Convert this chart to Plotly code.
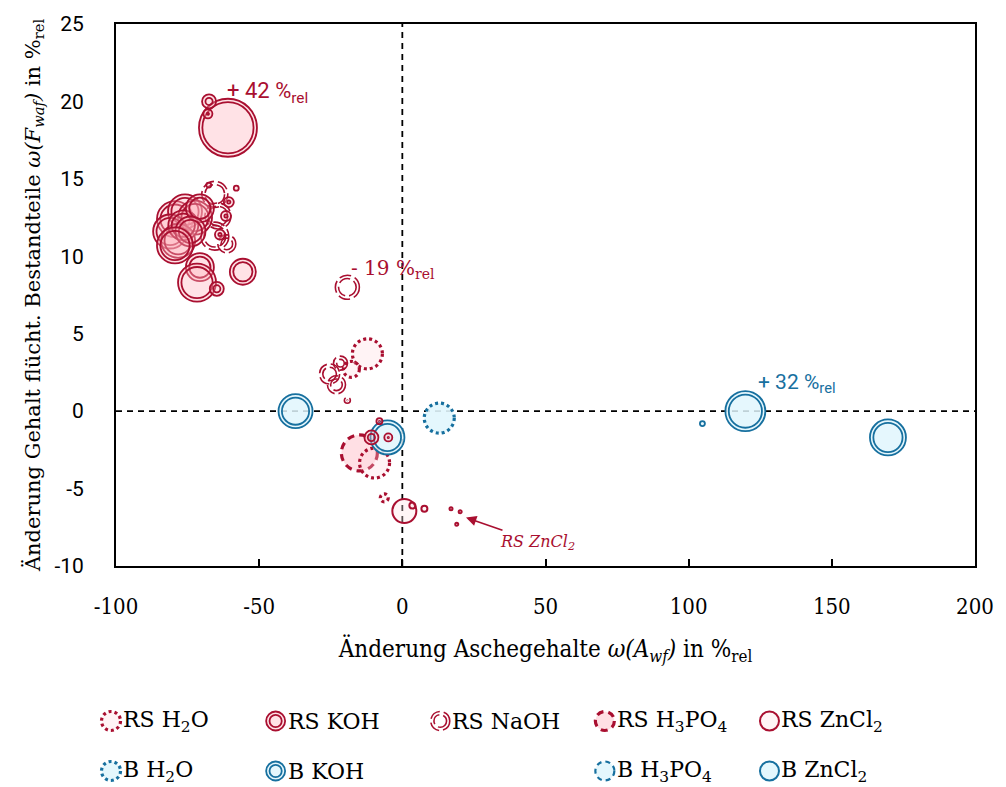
import plotly.graph_objects as go

# ---- data: x = Änderung Aschegehalt, y = Änderung flüchtige Bestandteile, s = Blasengröße ----
rs_h2o_x = [-12.2, -9.7, -17.8, -6.3]
rs_h2o_y = [3.7, -3.35, 2.7, -5.6]
rs_h2o_s = [3.0, 3.0, 1.6, 0.8]

rs_koh_x = [-60.9, -67.5, -67.9, -79.4, -75.9, -72.4, -81.1, -78.3, -76.5, -70.7, -74.0,
            -79.4, -70.7, -71.7, -64.8, -55.7, -60.6, -61.6, -63.7, -67.6, -58.0,
            -10.8, -4.9, -8.0]
rs_koh_y = [18.3, 20.0, 19.2, 12.4, 12.9, 12.5, 11.6, 11.0, 12.0, 13.1, 11.6,
            10.7, 9.3, 8.3, 7.9, 9.0, 13.5, 12.6, 11.4, 14.6, 14.4,
            -1.7, -1.7, -0.65]
rs_koh_s = [5.8, 1.4, 0.9, 3.6, 3.4, 3.4, 3.4, 3.4, 3.0, 2.8, 3.0,
            3.6, 2.8, 3.8, 1.4, 2.6, 1.0, 1.0, 1.0, 0.5, 0.5,
            1.4, 0.8, 0.6]

rs_naoh_x = [-65.5, -64.4, -65.5, -61.3, -19.2, -25.4, -21.6, -23.0, -19.2]
rs_naoh_y = [14.0, 12.6, 11.3, 10.8, 8.0, 2.4, 3.1, 1.7, 0.7]
rs_naoh_s = [2.6, 2.6, 2.8, 1.8, 2.4, 2.0, 1.4, 1.8, 0.6]

rs_h3po4_x = [-15.0]
rs_h3po4_y = [-2.7]
rs_h3po4_s = [3.6]

rs_zncl2_x = [0.7, 3.5, 7.7, 17.0, 20.2, 19.0]
rs_zncl2_y = [-6.45, -6.1, -6.3, -6.3, -6.5, -7.3]
rs_zncl2_s = [2.4, 0.6, 0.6, 0.3, 0.3, 0.3]

b_h2o_x = [12.9]
b_h2o_y = [-0.45]
b_h2o_s = [3.0]

b_koh_x = [-37.3, -5.2, 119.8, 169.6, 104.8]
b_koh_y = [0.0, -1.7, 0.0, -1.7, -0.8]
b_koh_s = [3.4, 3.4, 4.0, 3.6, 0.5]

b_h3po4_x, b_h3po4_y, b_h3po4_s = [], [], []
b_zncl2_x, b_zncl2_y, b_zncl2_s = [], [], []

x_ticks = [-100, -50, 0, 50, 100, 150, 200]
x_ticktext = ["-100", "-50", "0", "50", "100", "150", "200"]
y_ticks = [-10, -5, 0, 5, 10, 15, 20, 25]
y_ticktext = ["-10", "-5", "0", "5", "10", "15", "20", "25"]

# ---- styles ----
RED = "#A90F30"
BLUE = "#17709F"
PX_PER_UNIT = 10  # bubble size value -> diameter in pixels

STYLES = {
    "RS H2O":   dict(color=RED, double=False, dash="3px,3px", width=3.2, fill="rgba(255,215,222,0.30)"),
    "RS KOH":   dict(color=RED, double=True, dash="solid", width=1.8, fill="rgba(255,180,190,0.38)"),
    "RS NaOH":  dict(color=RED, double=True, dash="12px,4px", width=1.6, fill="rgba(255,255,255,0)"),
    "RS H3PO4": dict(color=RED, double=False, dash="7px,5px", width=3.2, fill="rgba(255,185,195,0.45)"),
    "RS ZnCl2": dict(color=RED, double=False, dash="solid", width=2.0, fill="rgba(255,225,230,0.35)"),
    "B H2O":    dict(color=BLUE, double=False, dash="3px,3px", width=3.2, fill="rgba(225,246,253,0.9)"),
    "B KOH":    dict(color=BLUE, double=True, dash="solid", width=1.8, fill="rgba(225,246,253,0.85)"),
    "B H3PO4":  dict(color=BLUE, double=False, dash="5px,4px", width=2.2, fill="rgba(225,246,253,0.9)"),
    "B ZnCl2":  dict(color=BLUE, double=False, dash="solid", width=2.0, fill="rgba(225,246,253,0.9)"),
}

SERIES = [
    ("RS H3PO4", rs_h3po4_x, rs_h3po4_y, rs_h3po4_s),
    ("RS H2O", rs_h2o_x, rs_h2o_y, rs_h2o_s),
    ("RS NaOH", rs_naoh_x, rs_naoh_y, rs_naoh_s),
    ("B H2O", b_h2o_x, b_h2o_y, b_h2o_s),
    ("B H3PO4", b_h3po4_x, b_h3po4_y, b_h3po4_s),
    ("B ZnCl2", b_zncl2_x, b_zncl2_y, b_zncl2_s),
    ("B KOH", b_koh_x, b_koh_y, b_koh_s),
    ("RS KOH", rs_koh_x, rs_koh_y, rs_koh_s),
    ("RS ZnCl2", rs_zncl2_x, rs_zncl2_y, rs_zncl2_s),
]


def ring(x, y, d, color, width, dash, fill, xref="x", yref="y"):
    return dict(type="circle", xref=xref, yref=yref,
                xsizemode="pixel", ysizemode="pixel", xanchor=x, yanchor=y,
                x0=-d / 2, x1=d / 2, y0=-d / 2, y1=d / 2,
                line=dict(color=color, width=width, dash=dash),
                fillcolor=fill, layer="above")


def bubble(style, x, y, d, xref="x", yref="y"):
    st = STYLES[style]
    out = [ring(x, y, d, st["color"], st["width"], st["dash"], st["fill"], xref, yref)]
    if st["double"] and d > 5:
        out.append(ring(x, y, d - 2 * (st["width"] + 1.6), st["color"], st["width"],
                        st["dash"], "rgba(0,0,0,0)", xref, yref))
    return out


shapes = []
for name, xs, ys, ss in SERIES:
    for x, y, s in zip(xs, ys, ss):
        shapes += bubble(name, x, y, s * PX_PER_UNIT)

# dashed zero lines
shapes.append(dict(type="line", xref="x", yref="paper", x0=0, x1=0, y0=0, y1=1,
                   line=dict(color="black", width=1.8, dash="6px,5px"), layer="below"))
shapes.append(dict(type="line", xref="paper", yref="y", x0=0, x1=1, y0=0, y1=0,
                   line=dict(color="black", width=1.8, dash="6px,5px"), layer="below"))

# ---- custom legend below the plot area ----
W, H = 1006, 787
ML, MR, MT, MB = 116, 29, 24, 221
PW, PH = W - ML - MR, H - MT - MB


def px_to_paper(px, py):
    return (px - ML) / PW, (H - MB - py) / PH


LEGEND = [
    ("RS H2O", "RS H<sub>2</sub>O", 111, 721),
    ("RS KOH", "RS KOH", 276, 721),
    ("RS NaOH", "RS NaOH", 441, 721),
    ("RS H3PO4", "RS H<sub>3</sub>PO<sub>4</sub>", 606, 721),
    ("RS ZnCl2", "RS ZnCl<sub>2</sub>", 771, 721),
    ("B H2O", "B H<sub>2</sub>O", 111, 771),
    ("B KOH", "B KOH", 276, 771),
    ("B H3PO4", "B H<sub>3</sub>PO<sub>4</sub>", 606, 771),
    ("B ZnCl2", "B ZnCl<sub>2</sub>", 771, 771),
]

annotations = []
for key, label, cx, cy in LEGEND:
    px, py = px_to_paper(cx, cy)
    shapes += bubble(key, px, py, 19, xref="paper", yref="paper")
    tx, _ = px_to_paper(cx + 10, cy)
    annotations.append(dict(x=tx, y=py, xref="paper", yref="paper", text=label,
                            showarrow=False, xanchor="left", yanchor="middle",
                            font=dict(family="DejaVu Serif", size=22, color="black")))

# value labels
annotations += [
    dict(x=-61.8, y=20.6, text="+ 42 %<sub>rel</sub>", showarrow=False, xanchor="left",
         yanchor="middle", font=dict(family="Roboto", size=22, color=RED)),
    dict(x=-18.5, y=9.2, text="- 19 %<sub>rel</sub>", showarrow=False, xanchor="left",
         yanchor="middle", font=dict(family="DejaVu Serif", size=20, color=RED)),
    dict(x=123.5, y=1.8, text="+ 32 %<sub>rel</sub>", showarrow=False, xanchor="left",
         yanchor="middle", font=dict(family="Roboto", size=21, color=BLUE)),
    dict(x=21.9, y=-6.85, text="<i>RS ZnCl<sub>2</sub></i>", showarrow=True, arrowhead=2,
         arrowsize=1.3, arrowwidth=1.6, arrowcolor=RED, ax=72, ay=25, standoff=1,
         font=dict(family="DejaVu Serif", size=16, color=RED)),
]

fig = go.Figure()
# invisible anchor trace so both axes exist
fig.add_trace(go.Scatter(x=[x_ticks[0], x_ticks[-1]], y=[y_ticks[0], y_ticks[-1]],
                         mode="markers", marker=dict(opacity=0), showlegend=False,
                         hoverinfo="skip"))

fig.update_layout(
    width=W, height=H,
    margin=dict(l=ML, r=MR, t=MT, b=MB),
    paper_bgcolor="white", plot_bgcolor="white",
    showlegend=False,
    shapes=shapes,
    annotations=annotations,
    xaxis=dict(range=[-100, 200], tickvals=x_ticks, ticktext=x_ticktext,
               showgrid=False, zeroline=False,
               showline=True, linecolor="black", linewidth=2, mirror=True,
               ticks="inside", ticklen=7, tickcolor="black", tickwidth=1.5,
               ticklabelstandoff=20,
               tickfont=dict(family="DejaVu Serif Condensed, DejaVu Serif", size=22, color="black"),
               title=dict(text="Änderung Aschegehalte <i>ω(A<sub>wf</sub>)</i> in %<sub>rel</sub>",
                          font=dict(family="DejaVu Serif Condensed, DejaVu Serif", size=24, color="black"),
                          standoff=22)),
    yaxis=dict(range=[-10, 25], tickvals=y_ticks, ticktext=y_ticktext,
               showgrid=False, zeroline=False,
               showline=True, linecolor="black", linewidth=2, mirror=True,
               ticks="", ticklabelstandoff=26,
               tickfont=dict(family="Roboto", size=21, color="black"),
               title=dict(text="Änderung Gehalt flücht. Bestandteile <i>ω(F<sub>waf</sub>)</i> in %<sub>rel</sub>",
                          font=dict(family="DejaVu Serif", size=21, color="black"),
                          standoff=8)),
)

fig.write_html("out.html")
